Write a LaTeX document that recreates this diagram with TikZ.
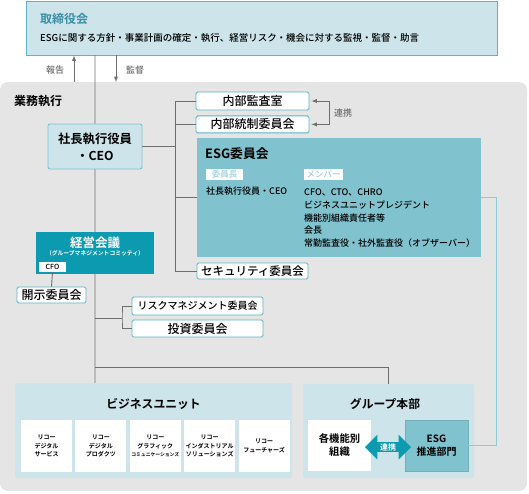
\documentclass[tikz,border=0pt]{standalone}
\usepackage{fontspec}
\setmainfont{Noto Sans CJK JP}[UprightFont=* Medium,BoldFont=* Bold]
\usepackage{xcolor}
\usepackage{tikz}
\usetikzlibrary{arrows,positioning,shapes.arrows}
\definecolor{bggray}{HTML}{E5E5E5}
\definecolor{paleblue}{HTML}{CCE4EA}
\definecolor{boxline}{HTML}{5AB4C5}
\definecolor{midteal}{HTML}{80C2CE}
\definecolor{deepteal}{HTML}{0B9AAF}
\definecolor{linegray}{HTML}{6E6E6E}
\definecolor{esgline}{HTML}{8FCAD5}
\definecolor{tagtext}{HTML}{9ED0DA}
\definecolor{titleteal}{HTML}{3B8FA6}

\begin{document}
\begin{tikzpicture}[x=1pt,y=-1pt,>=latex,
  box/.style={draw=boxline,fill=white,rounded corners=1.5pt,line width=0.9pt,
    inner sep=0pt,font=\fontsize{12}{12}\selectfont},
  panel/.style={fill=paleblue,rounded corners=2pt,inner sep=0pt},
  txt/.style={inner sep=0pt,font=\fontsize{9}{11}\selectfont},
  headtxt/.style={inner sep=0pt,font=\bfseries\fontsize{12}{12}\selectfont},
  conn/.style={draw=linegray,line width=0.9pt},
  esgtag/.style={fill=white,inner sep=0pt,text=tagtext,font=\fontsize{8.5}{9}\selectfont},
  bunit/.style={fill=white,inner sep=0pt,minimum width=51pt,minimum height=52pt,
    align=center,font=\bfseries\fontsize{6}{8.3}\selectfont}]
\useasboundingbox (0,0) rectangle (529,493);
%%Background of the execution area
\fill[bggray,rounded corners=8pt] (0,82) rectangle (527,491);
%%Board of directors
\node[panel,draw=boxline,line width=0.9pt,rounded corners=0pt,minimum width=471pt,minimum height=54pt] (board) at (261.5,28) {};
\node[headtxt,text=titleteal,anchor=west] (boardt) at (40,19) {取締役会};
\node[txt,anchor=west,font=\fontsize{9.5}{11}\selectfont] (boardd) at (40,38) {ESGに関する方針・事業計画の確定・執行、経営リスク・機会に対する監視・監督・助言};
%%Report and supervision
\coordinate (rep) at (74,82);
\coordinate (sv) at (116,82);
\draw[conn,->] (rep) -- (rep |- board.south);
\draw[conn,->] (board.south -| sv) -- (sv);
\node[txt,text=linegray] (rept) at (55,70) {報告};
\node[txt,text=linegray] (svt) at (135,70) {監督};
\node[headtxt] (exec) at (38,101) {業務執行};
%%First place the nodes
\node[panel,draw=boxline!80,line width=0.9pt,minimum width=94pt,minimum height=45pt,align=center,
  font=\bfseries\fontsize{12.3}{17}\selectfont] (ceo) at (95,146.5) {社長執行役員\\・CEO};
\node[box,minimum width=113pt,minimum height=18pt] (audit) at (252.5,101) {内部監査室};
\node[box,minimum width=113pt,minimum height=17pt,below=5pt of audit] (ictrl) {内部統制委員会};
\node[fill=midteal,minimum width=284pt,minimum height=119pt,inner sep=0pt] (esg) at (339,197.5) {};
\node[headtxt,anchor=west,font=\bfseries\fontsize{12.8}{13}\selectfont] (esgt) at (205,154) {ESG委員会};
\node[esgtag,minimum width=37pt,minimum height=11pt] (chair) at (224.5,174.5) {委員長};
\node[esgtag,minimum width=39pt,minimum height=11pt] (memb) at (323.5,174.5) {メンバー};
\node[txt,anchor=west] (chairn) at (206,191) {社長執行役員・CEO};
\node[txt,anchor=north west,align=left,font=\fontsize{9}{12.8}\selectfont] (membn) at (304,188.5) {CFO、CTO、CHRO\\ビジネスユニットプレジデント\\機能別組織責任者等\\会長\\常勤監査役・社外監査役（オブザーバー）};
\node[box,minimum width=111pt,minimum height=16pt,font=\fontsize{11.5}{12}\selectfont] (sec) at (252.5,271) {セキュリティ委員会};
\node[fill=deepteal,minimum width=118pt,minimum height=42pt,inner sep=0pt] (mgmt) at (95,253) {};
\node[headtxt,text=white,font=\bfseries\fontsize{12.5}{13}\selectfont] (mgmtt) at (95,243) {経営会議};
\node[txt,text=white,font=\bfseries\fontsize{5.8}{6}\selectfont] (mgmts) at (95,253.5) {（グループマネジメントコミッティ）};
\node[fill=white,inner sep=0pt,minimum width=27pt,minimum height=10pt,font=\fontsize{7}{7}\selectfont] (cfo) at (52.5,267) {CFO};
\node[box,minimum width=69pt,minimum height=16pt] (disc) at (51.5,295) {開示委員会};
\node[box,minimum width=131pt,minimum height=18pt,font=\fontsize{10}{10}\selectfont] (risk) at (197.5,306) {リスクマネジメント委員会};
\node[box,minimum width=131pt,minimum height=17pt] (inv) at (197.5,328.5) {投資委員会};
%%Business units
\node[panel,minimum width=277pt,minimum height=95pt] (bu) at (153.5,430.5) {};
\node[headtxt,font=\bfseries\fontsize{11.8}{12}\selectfont] (butitle) at (153.5,404) {ビジネスユニット};
\node[bunit] (bu1) at (46.5,446) {リコー\\デジタル\\サービス};
\node[bunit,right=3pt of bu1] (bu2) {リコー\\デジタル\\プロダクツ};
\node[bunit,right=3pt of bu2] (bu3) {リコー\\グラフィック\\{\fontsize{4.8}{8.3}\selectfont コミュニケーションズ}};
\node[bunit,right=3pt of bu3] (bu4) {リコー\\インダストリアル\\ソリューションズ};
\node[bunit,right=3pt of bu4] (bu5) {リコー\\フューチャーズ};
%%Group headquarters
\node[panel,minimum width=171pt,minimum height=94pt] (grp) at (388.5,431) {};
\node[headtxt,font=\bfseries\fontsize{11.8}{12}\selectfont] (grpt) at (385,404) {グループ本部};
\node[fill=white,inner sep=0pt,minimum width=63pt,minimum height=51pt,align=center,
  font=\bfseries\fontsize{10.3}{13}\selectfont] (func) at (339.5,445.5) {各機能別\\組織};
\node[fill=midteal,draw=midteal!90!black,line width=0.5pt,inner sep=0pt,minimum width=63pt,minimum height=51pt,align=center,
  font=\bfseries\fontsize{10}{13}\selectfont] (promo) at (436.5,445.5) {ESG\\推進部門};
\node[double arrow,fill=deepteal,text=white,inner sep=1pt,minimum height=46pt,
  double arrow head extend=7.5pt,font=\bfseries\fontsize{8}{8}\selectfont] (coop) at (388,447) {連携};
%%Draw the gray lines
\draw[conn]
(ceo.north) -- (ceo.north |- board.south)
(ceo.south) -- (mgmt.north)
(mgmt.south) -- (mgmt.south |- bu.north)
(cfo.south) -- (disc.north);
\coordinate (br) at (175,101);
\draw[conn] (ceo.east) -- (ceo.east -| br);
\draw[conn] (audit.west) -| (br) |- (sec.west);
\draw[conn] (br |- ictrl.west) -- (ictrl.west);
\draw[conn] (br |- esg.west) -- (esg.west);
\coordinate (rb) at (122,318);
\draw[conn] (mgmt.south |- rb) -- (rb);
\draw[conn] (risk.west) -| (rb) |- (inv.west);
\coordinate (gb) at (95,367);
\draw[conn] (gb) -| (grp.north);
%%Cooperation between audit and internal control
\draw[conn,<->,shorten <=2pt,shorten >=2pt] (audit.east) -- ++(20,0) |- (ictrl.east);
\node[txt,text=linegray] (auditc) at (343,113) {連携};
%%Draw the ESG line
\draw[esgline,line width=0.9pt] (esg.east) -- ++(15,0) |- (promo.east);
\end{tikzpicture}
\end{document}
